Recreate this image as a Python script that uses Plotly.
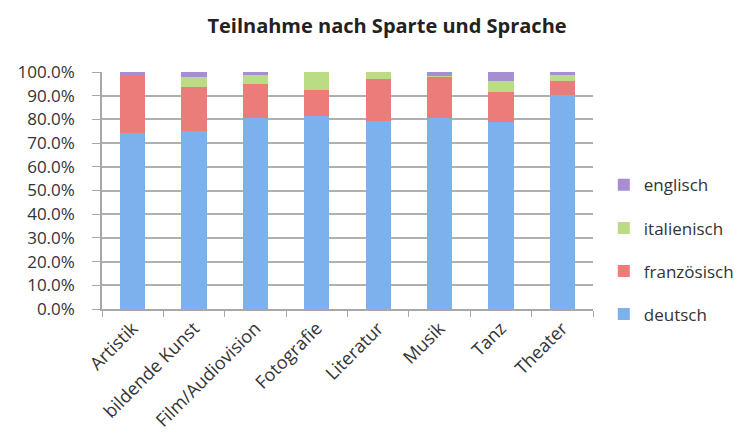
import plotly.graph_objects as go

categories = ["Artistik", "bildende Kunst", "Film/Audiovision", "Fotografie",
              "Literatur", "Musik", "Tanz", "Theater"]
deutsch = [74.2, 75.0, 80.5, 81.6, 79.5, 80.6, 78.8, 90.3]
franzoesisch = [24.0, 18.5, 14.4, 11.0, 17.5, 17.4, 12.9, 6.1]
italienisch = [0.0, 4.3, 4.0, 7.4, 3.0, 0.3, 4.4, 2.5]
englisch = [1.8, 2.2, 1.1, 0.0, 0.0, 1.7, 3.9, 1.1]

series = [
    ("deutsch", deutsch, "#7db1ee", 4),
    ("französisch", franzoesisch, "#ec7c79", 3),
    ("italienisch", italienisch, "#b9dc84", 2),
    ("englisch", englisch, "#a78dd2", 1),
]

fig = go.Figure()
for name, vals, col, rank in series:
    fig.add_trace(go.Bar(
        x=categories, y=[v / 100 for v in vals], name=name,
        marker=dict(color=col, line=dict(width=0)),
        legendgroup=name, legendrank=rank,
    ))

font = "Open Sans, DejaVu Sans, sans-serif"
fig.update_layout(
    barmode="stack",
    bargap=0.59,
    width=755, height=437,
    paper_bgcolor="white", plot_bgcolor="white",
    margin=dict(l=94, r=170, t=64, b=136),
    title=dict(text="<b>Teilnahme nach Sparte und Sprache</b>", xref="container",
               x=0.502, xanchor="center", yref="container",
               y=0.958, yanchor="middle", font=dict(family=font, size=20, color="#222")),
    font=dict(family=font, size=18, color="#333"),
    legend=dict(x=1.022, xanchor="left", y=0.25, yanchor="middle",
                traceorder="grouped", tracegroupgap=18,
                font=dict(family=font, size=17, color="#333")),
    showlegend=True,
)
fig.update_yaxes(range=[0, 1], tickformat=".1%", dtick=0.1,
                 showgrid=True, gridcolor="#b0b0b0", gridwidth=1.5,
                 showline=True, linecolor="#a8a8a8", linewidth=1.5,
                 ticks="outside", ticklen=8, automargin=False,
                 tickcolor="#a8a8a8", zeroline=False, ticklabelstandoff=14,
                 tickfont=dict(family=font, size=17, color="#333"))
fig.update_xaxes(showline=True, linecolor="#a8a8a8", linewidth=1.5, tickangle=-45,
                 ticks="outside", tickson="boundaries", ticklen=6, tickcolor="#a8a8a8",
                 automargin=False,
                 tickfont=dict(family=font, size=18, color="#333"))

fig.write_html("out.html")
